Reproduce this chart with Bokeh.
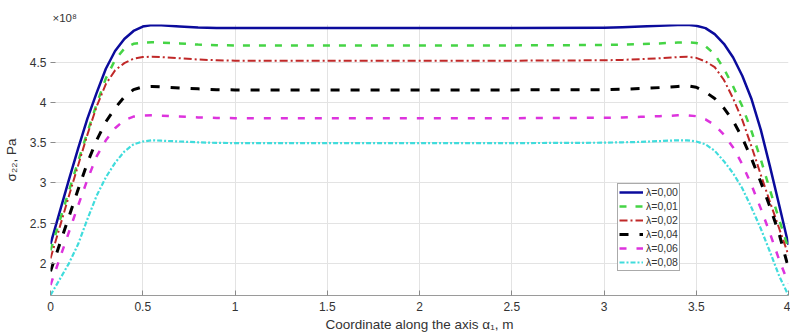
from bokeh.plotting import figure
from bokeh.models import FixedTicker, Range1d
from bokeh.embed import file_html
from bokeh.resources import INLINE

# ---- data (values in units of 10^8 Pa) ----
x_coord = [0.0, 0.05, 0.1, 0.15, 0.2, 0.25, 0.3, 0.35, 0.4, 0.45, 0.5, 0.55, 0.6, 0.7, 0.8, 0.9, 1.0,
           1.5, 2.0, 2.5,
           3.0, 3.1, 3.2, 3.3, 3.4, 3.45, 3.5, 3.55, 3.6, 3.65, 3.7, 3.75, 3.8, 3.85, 3.9, 3.95, 4.0]

sigma_l000 = [2.24, 2.64, 3.04, 3.43, 3.80, 4.12, 4.42, 4.64, 4.79, 4.89, 4.945, 4.965, 4.96, 4.945, 4.932, 4.927, 4.925,
              4.925, 4.925, 4.925,
              4.93, 4.935, 4.945, 4.955, 4.965, 4.967, 4.955, 4.925, 4.85, 4.73, 4.56, 4.33, 4.04, 3.66, 3.20, 2.72, 2.23]
sigma_l001 = [2.16, 2.53, 2.90, 3.27, 3.63, 3.98, 4.30, 4.53, 4.67, 4.73, 4.745, 4.75, 4.745, 4.735, 4.72, 4.713, 4.71,
              4.71, 4.71, 4.71,
              4.715, 4.72, 4.727, 4.735, 4.745, 4.748, 4.74, 4.70, 4.60, 4.42, 4.20, 3.95, 3.64, 3.29, 2.91, 2.54, 2.18]
sigma_l002 = [2.06, 2.45, 2.84, 3.22, 3.60, 3.95, 4.23, 4.40, 4.49, 4.545, 4.565, 4.57, 4.565, 4.55, 4.535, 4.525, 4.52,
              4.52, 4.52, 4.52,
              4.525, 4.53, 4.54, 4.55, 4.565, 4.57, 4.555, 4.51, 4.44, 4.28, 4.05, 3.78, 3.45, 3.10, 2.76, 2.43, 2.10]
sigma_l004 = [1.90, 2.24, 2.58, 2.92, 3.25, 3.53, 3.76, 3.93, 4.07, 4.16, 4.195, 4.20, 4.195, 4.18, 4.17, 4.16, 4.157,
              4.157, 4.157, 4.157,
              4.16, 4.165, 4.175, 4.185, 4.20, 4.21, 4.19, 4.13, 4.05, 3.93, 3.77, 3.56, 3.30, 3.01, 2.70, 2.36, 1.94]
sigma_l006 = [1.73, 2.06, 2.39, 2.72, 3.04, 3.33, 3.53, 3.68, 3.78, 3.825, 3.838, 3.84, 3.835, 3.825, 3.815, 3.808, 3.805,
              3.805, 3.805, 3.805,
              3.81, 3.815, 3.822, 3.83, 3.84, 3.842, 3.83, 3.79, 3.72, 3.60, 3.44, 3.23, 2.97, 2.68, 2.37, 2.04, 1.75]
sigma_l008 = [1.605, 1.80, 2.00, 2.24, 2.55, 2.84, 3.07, 3.25, 3.39, 3.48, 3.515, 3.53, 3.525, 3.515, 3.505, 3.498, 3.495,
              3.495, 3.495, 3.495,
              3.50, 3.505, 3.51, 3.52, 3.53, 3.53, 3.515, 3.48, 3.40, 3.27, 3.12, 2.93, 2.69, 2.43, 2.14, 1.84, 1.60]

series_labels = ["λ=0,00", "λ=0,01", "λ=0,02", "λ=0,04", "λ=0,06", "λ=0,08"]

x_ticks = [0, 0.5, 1, 1.5, 2, 2.5, 3, 3.5, 4]
x_tick_labels = ["0", "0.5", "1", "1.5", "2", "2.5", "3", "3.5", "4"]
y_ticks = [2, 2.5, 3, 3.5, 4, 4.5]
y_tick_labels = ["2", "2.5", "3", "3.5", "4", "4.5"]
exponent_text = "×10⁸"

# ---- styles ----
series = [sigma_l000, sigma_l001, sigma_l002, sigma_l004, sigma_l006, sigma_l008]
colors = ["#0b0b9c", "#45d445", "#c02828", "#000000", "#dd33dd", "#40dcdc"]
dashes = ["solid", "7 9", "8 3 2 3", "9 11", "7 10", "5 2 2 2"]
widths = [2.5, 2.5, 2.0, 3.0, 2.5, 2.2]

FONT = "Liberation Sans"
TXT = "#333333"

p = figure(width=790, height=335, output_backend="svg", toolbar_location=None,
           x_range=Range1d(0, 4), y_range=Range1d(1.6, 4.97),
           min_border_left=48, min_border_right=2, min_border_top=24, min_border_bottom=40)
p.outline_line_color = None
p.background_fill_color = "white"
p.border_fill_color = "white"

for ys, c, d, w, lab in zip(series, colors, dashes, widths, series_labels):
    p.line(x_coord, ys, line_color=c, line_dash=d, line_width=w, line_join="round",
           legend_label=lab)

# exponent shown as a left-aligned title just above the frame
p.title.text = exponent_text
p.title.align = "left"
p.title.offset = 2
p.title.standoff = 1
p.title.text_font = FONT
p.title.text_font_size = "11.5px"
p.title.text_font_style = "normal"
p.title.text_color = TXT

# axes
p.xaxis.ticker = FixedTicker(ticks=x_ticks)
p.yaxis.ticker = FixedTicker(ticks=y_ticks)
p.xaxis.major_label_overrides = {t: l for t, l in zip(x_ticks, x_tick_labels)}
p.yaxis.major_label_overrides = {t: l for t, l in zip(y_ticks, y_tick_labels)}
p.xgrid.ticker = FixedTicker(ticks=x_ticks)
p.ygrid.ticker = FixedTicker(ticks=y_ticks)
p.grid.grid_line_color = "#e3e3e3"
p.grid.grid_line_width = 1

for ax in (p.xaxis[0], p.yaxis[0]):
    ax.major_tick_in = 5
    ax.major_tick_out = 0
    ax.minor_tick_line_color = None
    ax.major_tick_line_color = "#8a8a8a"
    ax.major_label_text_font = FONT
    ax.major_label_text_font_size = "12px"
    ax.major_label_text_color = TXT
    ax.axis_label_text_font = FONT
    ax.axis_label_text_font_size = "13.5px"
    ax.axis_label_text_font_style = "normal"
    ax.axis_label_text_color = TXT

p.xaxis.axis_line_color = "#9a9a9a"
p.yaxis.axis_line_color = None
p.xaxis.major_label_standoff = 6
p.xaxis.axis_label_standoff = 3
p.yaxis.major_label_standoff = 4
p.yaxis.axis_label_standoff = 8
p.xaxis.axis_label = "Coordinate along the axis α₁, m"
p.yaxis.axis_label = "σ₂₂, Pa"

# legend
lg = p.legend[0]
lg.location = (567, 24)
lg.margin = 0
lg.padding = 1
lg.spacing = 0
lg.label_height = 14
lg.glyph_height = 14
lg.glyph_width = 24
lg.label_standoff = 3
lg.label_text_font = FONT
lg.label_text_font_size = "10.5px"
lg.label_text_color = TXT
lg.border_line_color = "#555555"
lg.border_line_width = 1
lg.background_fill_color = "white"
lg.background_fill_alpha = 1.0

open("out.html", "w").write(file_html(p, INLINE))
